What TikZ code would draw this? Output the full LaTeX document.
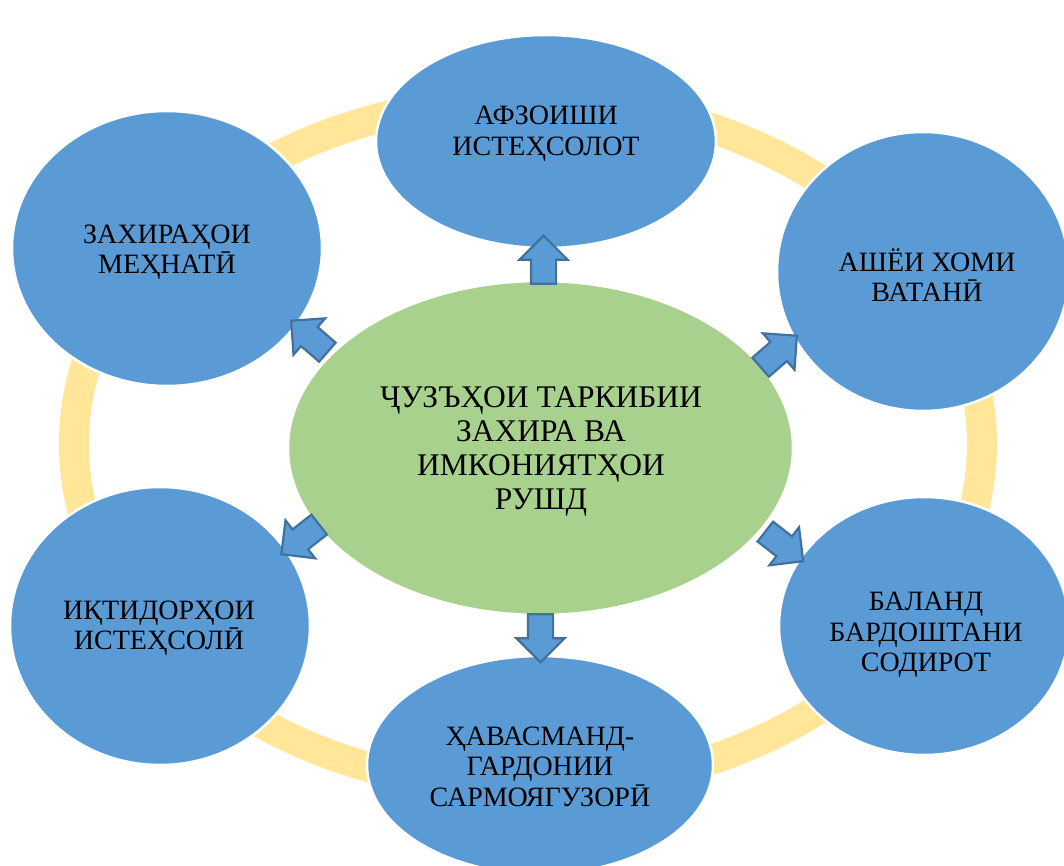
\documentclass[tikz,border=0pt]{standalone}
\usepackage{fontspec}
\setmainfont{Liberation Serif}
\usetikzlibrary{shapes.geometric,shapes.arrows}
\definecolor{blueE}{HTML}{5B9BD5}
\definecolor{greenE}{HTML}{A9D18E}
\definecolor{ringY}{HTML}{FFE699}
\definecolor{arrB}{HTML}{41719C}
\tikzset{
  bubble/.style={ellipse, inner sep=0pt, draw=white, line width=2.5pt, fill=blueE},
  hub/.style={ellipse, inner sep=0pt, draw=white, line width=2.5pt, fill=greenE},
  outtxt/.style={align=center, inner sep=0pt, font=\fontsize{28}{30.5}\selectfont},
  hubtxt/.style={align=center, inner sep=0pt, font=\fontsize{31.5}{34}\selectfont},
  blockarrow/.style={single arrow, fill=blueE, draw=arrB, line width=2.2pt,
     minimum height=48pt, inner sep=11.5pt, single arrow head extend=11.5pt,
     single arrow tip angle=90, anchor=center}
}
\begin{document}
\begin{tikzpicture}[x=1pt,y=-1pt]
\useasboundingbox (0,0) rectangle (1064,866);
\clip (0,0) rectangle (1064,866);
\fill[white] (0,0) rectangle (1064,866);
% ring
\draw[ringY, line width=30pt] (528,444) ellipse [x radius=454pt, y radius=345pt];
% outer bubbles
\node[bubble, minimum width=340pt, minimum height=213pt] (top) at (546,141.5) {};
\node[bubble, minimum width=310pt, minimum height=275pt] (tl) at (167,248.5) {};
\node[bubble, minimum width=292pt, minimum height=279pt] (rt) at (923,271.5) {};
\node[bubble, minimum width=290pt, minimum height=258pt] (rb) at (924,626) {};
\node[bubble, minimum width=346pt, minimum height=218pt] (bot) at (540,765) {};
\node[bubble, minimum width=300pt, minimum height=278pt] (bl) at (160,626) {};
% hub
\node[hub, minimum width=505pt, minimum height=334pt] (hub) at (540.5,448) {};
% texts
\node[outtxt] (ttop) at (546,133.5) {АФЗОИШИ\\ИСТЕҲСОЛОТ};
\node[outtxt] (ttl) at (167,252) {ЗАХИРАҲОИ\\МЕҲНАТӢ};
\node[outtxt] (trt) at (927,275) {АШЁИ ХОМИ\\ВАТАНӢ};
\node[outtxt] (trb) at (926,635) {БАЛАНД\\БАРДОШТАНИ\\СОДИРОТ};
\node[outtxt] (tbot) at (540,766.5) {ҲАВАСМАНД-\\ГАРДОНИИ\\САРМОЯГУЗОРӢ};
\node[outtxt] (tbl) at (159,628) {ИҚТИДОРҲОИ\\ИСТЕҲСОЛӢ};
\node[hubtxt] (thub) at (541,451.5) {ҶУЗЪҲОИ ТАРКИБИИ\\ЗАХИРА ВА\\ИМКОНИЯТҲОИ\\РУШД};
% arrows
\node[blockarrow, rotate=90] (a1) at (543.5,266) {};
\node[blockarrow, rotate=-90] (a2) at (540.5,632) {};
\node[blockarrow, rotate=139] (a3) at (314,340.6) {};
\node[blockarrow, rotate=41] (a4) at (774,355.6) {};
\node[blockarrow, rotate=-38] (a5) at (779.3,542.5) {};
\node[blockarrow, rotate=218] (a6) at (305.2,535.5) {};
\end{tikzpicture}
\end{document}
